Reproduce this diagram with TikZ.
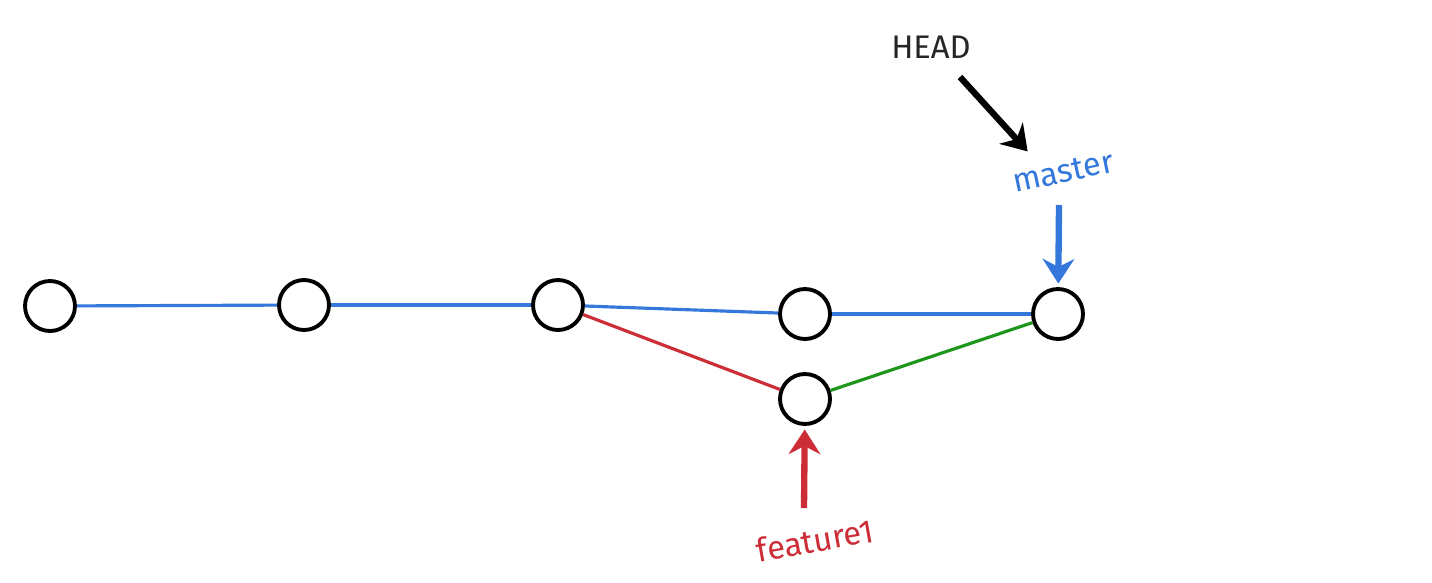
\documentclass[tikz,border=0pt]{standalone}
\usepackage{fontspec}
\setmainfont{Fira Sans}
\usetikzlibrary{arrows.meta}

\definecolor{gitblue}{RGB}{52,120,220}
\definecolor{gitred}{RGB}{205,45,55}
\definecolor{gitgreen}{RGB}{30,150,30}

\begin{document}
\begin{tikzpicture}[>={Stealth[length=7pt,width=9pt]}]
\tikzstyle{commit}=[circle,draw,line width=1.1pt,minimum size=0.5cm,inner sep=0pt]
\tikzstyle{label}=[font=\fontsize{9.3}{10}\selectfont]
\tikzstyle{pointer}=[->,line width=1.8pt,shorten >=1pt]
\useasboundingbox (0,0) rectangle (14.32,5.82);
\node at(0.50,2.76)(c1)[commit]{};
\node at(3.04,2.77)(c2)[commit]{}
	edge [gitblue,line width=0.9pt] (c1);
\node at(5.58,2.77)(c3)[commit]{}
	edge [gitblue,line width=0.9pt] (c2);
\node at(8.05,2.68)(c4)[commit]{}
	edge [gitblue,line width=0.9pt] (c3);
\node at(10.58,2.68)(c5)[commit]{}
	edge [gitblue,line width=0.9pt] (c4);
\node at(8.05,1.83)(f1)[commit]{}
	edge [gitred,line width=0.9pt] (c3)
	edge [gitgreen,line width=0.9pt] (c5);
% labels
\node at(9.31,5.35)(HEAD)[label,black!85]{HEAD};
\node at(10.63,4.10)(master)[label,gitblue,rotate=12]{master};
\node at(8.15,0.42)(feature1)[label,gitred,rotate=10]{feature1};
% pointers
\coordinate (htail) at (9.60,5.05);
\coordinate (hhead) at (10.30,4.28);
\coordinate (mtail) at (10.59,3.77);
\coordinate (ftail) at (8.04,0.74);
\draw (htail) edge [pointer,black] (hhead);
\draw (mtail) edge [pointer,gitblue] (c5);
\draw (ftail) edge [pointer,gitred] (f1);
\end{tikzpicture}
\end{document}
